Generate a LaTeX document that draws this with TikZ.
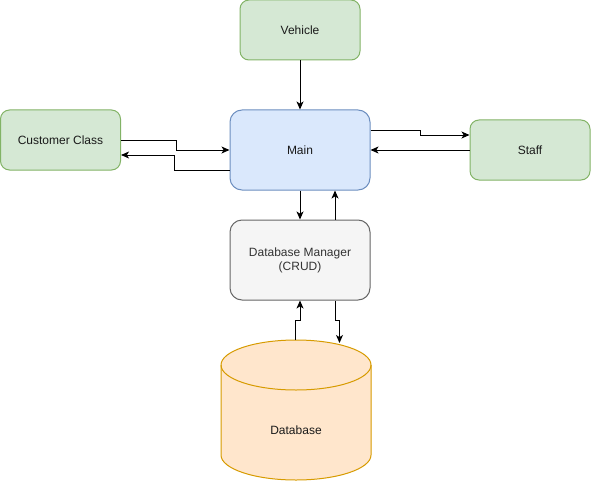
\documentclass[tikz,border=0pt]{standalone}
\usepackage{fontspec}
\setmainfont{Liberation Sans}
\usetikzlibrary{arrows.meta,calc}
\definecolor{gfill}{HTML}{D5E8D4}
\definecolor{gline}{HTML}{82B366}
\definecolor{bfill}{HTML}{DAE8FC}
\definecolor{bline}{HTML}{6C8EBF}
\definecolor{sfill}{HTML}{F5F5F5}
\definecolor{sline}{HTML}{666666}
\definecolor{stext}{HTML}{333333}
\definecolor{ofill}{HTML}{FFE6CC}
\definecolor{oline}{HTML}{D79B00}
\definecolor{txt}{HTML}{1A1A1A}
\begin{document}
\begin{tikzpicture}[x=0.75pt,y=-0.75pt,
  font=\fontsize{9pt}{10.5pt}\selectfont,
  box/.style={draw, line width=0.75pt, rounded corners=6.75pt, minimum width=90pt, minimum height=45pt, inner sep=0pt, align=center, text=txt},
  bigbox/.style={box, rounded corners=9pt, minimum width=105pt, minimum height=60pt},
  green/.style={fill=gfill, draw=gline},
  arr/.style={-{Stealth[length=6pt,width=5.2pt,inset=1.6pt]}, line width=0.75pt, black}]
\useasboundingbox (0,0) rectangle (591,481);
\node[box,green] (veh) at (300,30) {Vehicle};
\node[box,green] (cust) at (60.5,140) {Customer Class};
\node[bigbox,fill=bfill,draw=bline] (main) at (300,150) {Main};
\node[box,green] (staff) at (530,150) {Staff};
\node[bigbox,fill=sfill,draw=sline,text=stext] (dbm) at (300,260) {Database Manager\\(CRUD)};
% cylinder
\draw[fill=ofill, draw=oline, line width=0.75pt]
  (221,365) -- (221,455) arc[start angle=180, end angle=0, x radius=75, y radius=25]
  -- (371,365) arc[start angle=0, end angle=-180, x radius=75, y radius=25] -- cycle;
\draw[draw=oline, line width=0.75pt] (221,365) arc[start angle=180, end angle=0, x radius=75, y radius=25];
\node[text=txt] (db) at (296,430) {Database};
\coordinate (dbin) at (295,340);
\coordinate (dbout) at (339.5,343);
% connectors
\draw[arr] (veh.south) -- (main.north);
\draw[arr] (cust.east) -- ++(55,0) |- (main.west);
\draw[arr] ($(main.west)+(0,20)$) -- ++(-55,0) |- ($(cust.east)+(0,15)$);
\draw[arr] ($(main.east)+(0,-20)$) -- ++(50,0) |- ($(staff.west)+(0,-15)$);
\draw[arr] (staff.west) -- (main.east);
\draw[arr] (main.south) -- (dbm.north);
\draw[arr] ($(dbm.north)+(35,0)$) -- ($(main.south)+(35,0)$);
\draw[arr] (dbin) -- ++(0,-20) -| (dbm.south);
\draw[arr] ($(dbm.south)+(35,0)$) -- ++(0,20) -| (dbout);
\end{tikzpicture}
\end{document}
